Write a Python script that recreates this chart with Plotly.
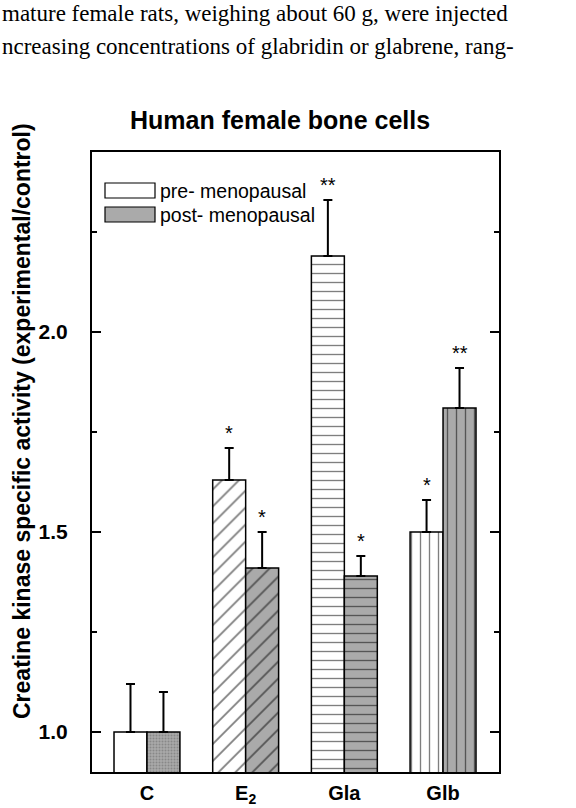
import plotly.graph_objects as go

# ---------------- data ----------------
groups = ["C", "E<sub>2</sub>", "Gla", "Glb"]
pre = [1.00, 1.63, 2.19, 1.50]
pre_err = [0.12, 0.08, 0.14, 0.08]
post = [1.00, 1.41, 1.39, 1.81]
post_err = [0.10, 0.09, 0.05, 0.10]
pre_sig = ["", "*", "**", "*"]
post_sig = ["", "*", "*", "**"]
series_names = ["pre- menopausal", "post- menopausal"]
y_ticks = [1.0, 1.5, 2.0]

# ---------------- layout geometry ----------------
W, H = 576, 808
L, R, T, B = 92, 499, 152, 772  # plot area in px


def px_x(p):
    return (p - L) / (R - L)


def px_y(p):
    return (B - p) / (B - T)


SANS = "Liberation Sans, Arial, sans-serif"
SERIF = "Liberation Serif, Times New Roman, serif"
GRAY = "#aaaaaa"

idx = list(range(len(groups)))
half = 0.167
bw = 0.334
pre_x = [i - half for i in idx]
post_x = [i + half for i in idx]

fig = go.Figure()
fig.add_bar(
    x=pre_x, y=pre, width=bw, name=series_names[0], showlegend=False,
    marker=dict(color="white", line=dict(color="black", width=1.5),
                pattern=dict(shape=["", "/", "-", "|"], fgcolor="black", bgcolor="white",
                             size=[9, 12, 9, 9], solidity=0.15)),
    error_y=dict(type="data", array=pre_err, arrayminus=[0] * len(pre),
                 symmetric=False, color="black", thickness=2, width=4.5),
)
fig.add_bar(
    x=post_x, y=post, width=bw, name=series_names[1], showlegend=False,
    marker=dict(color=GRAY, line=dict(color="black", width=1.5),
                pattern=dict(shape=[".", "/", "-", "|"],
                             fgcolor=["#666666", "black", "black", "black"],
                             bgcolor=GRAY, size=[3, 12, 9, 9],
                             solidity=[0.35, 0.15, 0.15, 0.15])),
    error_y=dict(type="data", array=post_err, arrayminus=[0] * len(post),
                 symmetric=False, color="black", thickness=2, width=4.5),
)

annotations = []
# significance stars
for xs, ys, es, sig in [(pre_x, pre, pre_err, pre_sig), (post_x, post, post_err, post_sig)]:
    for x, y, e, s in zip(xs, ys, es, sig):
        if s:
            annotations.append(dict(x=x, y=y + e, xref="x", yref="y", text=s,
                                    showarrow=False, xanchor="center", yanchor="bottom", yshift=2,
                                    font=dict(family=SANS, size=20, color="black")))

# title
annotations.append(dict(x=px_x(280), y=px_y(120), xref="paper", yref="paper",
                        xanchor="center", yanchor="middle",
                        text="<b>Human female bone cells</b>", showarrow=False,
                        font=dict(family=SANS, size=25, color="black")))
# y-axis title
annotations.append(dict(x=px_x(22), y=px_y(421), xref="paper", yref="paper",
                        xanchor="center", yanchor="middle",
                        text="<b>Creatine kinase specific activity (experimental/control)</b>",
                        textangle=-90, showarrow=False,
                        font=dict(family=SANS, size=23, color="black")))
# surrounding page text
annotations.append(dict(x=px_x(0), y=px_y(14), xref="paper", yref="paper",
                        xanchor="left", yanchor="middle",
                        text="mature female rats, weighing about 60 g, were injected",
                        showarrow=False, font=dict(family=SERIF, size=23, color="black")))
annotations.append(dict(x=px_x(0), y=px_y(46), xref="paper", yref="paper",
                        xanchor="left", yanchor="middle",
                        text="ncreasing concentrations of glabridin or glabrene, rang-",
                        showarrow=False, font=dict(family=SERIF, size=23, color="black")))

# manual legend
legend_shapes = []
legend_rows = [(183, 198, "white"), (207, 222, GRAY)]
for (y0, y1, col), name in zip(legend_rows, series_names):
    legend_shapes.append(dict(type="rect", xref="paper", yref="paper",
                              x0=px_x(105), x1=px_x(155), y0=px_y(y1), y1=px_y(y0),
                              fillcolor=col, line=dict(color="black", width=1.2)))
    annotations.append(dict(x=px_x(158), y=px_y((y0 + y1) / 2), xref="paper", yref="paper",
                            xanchor="left", yanchor="middle", text=name, showarrow=False,
                            font=dict(family=SANS, size=19.5, color="black")))

fig.update_layout(
    width=W, height=H,
    margin=dict(l=L, r=W - R, t=T, b=H - B, pad=0, autoexpand=False),
    paper_bgcolor="white", plot_bgcolor="white",
    barmode="overlay",
    showlegend=False,
    annotations=annotations,
    shapes=legend_shapes,
    xaxis=dict(range=[-0.557, 3.567], tickmode="array", tickvals=idx,
               ticktext=["<b>%s</b>" % g for g in groups], automargin=False,
               showgrid=False, zeroline=False, showline=True, linecolor="black", linewidth=2,
               mirror=True, ticks="", ticklabelstandoff=2,
               tickfont=dict(family=SANS, size=20, color="black")),
    yaxis=dict(range=[0.9, 2.45], tickmode="array", tickvals=y_ticks,
               ticktext=["<b>%.1f</b>" % v for v in y_ticks], automargin=False,
               showgrid=False, zeroline=False, showline=True, linecolor="black", linewidth=2,
               mirror="ticks", ticks="inside", ticklen=9, tickwidth=2, tickcolor="black",
               ticklabelstandoff=18,
               minor=dict(ticks="inside", ticklen=5, tickwidth=1.5, tickcolor="black",
                          tickmode="array", tickvals=[1.25, 1.75, 2.25]),
               tickfont=dict(family=SANS, size=21, color="black")),
)

fig.write_html("out.html")
